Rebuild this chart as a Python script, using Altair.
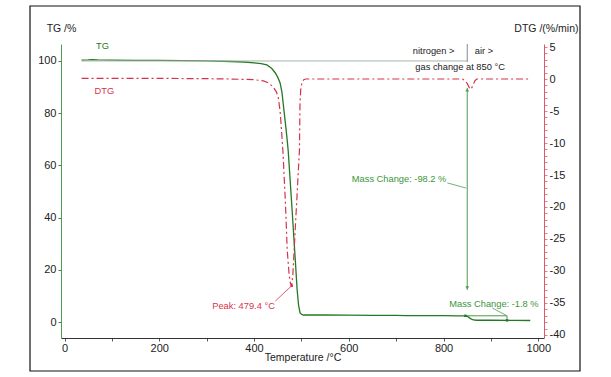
import altair as alt
import pandas as pd

# ---------------- data ----------------
tg_temp = [36, 50, 58, 70, 100, 150, 200, 250, 300, 350, 380, 400, 415, 427, 437,
           445, 450, 455, 459, 462, 466, 470, 472, 476, 480, 484, 487, 491, 494,
           497, 500, 504, 510, 550, 600, 650, 700, 720, 750, 800, 830, 846, 850,
           854, 858, 863, 870, 900, 950, 983]
tg_val = [100.3, 100.4, 100.5, 100.4, 100.3, 100.2, 100.2, 100.1, 100.0, 99.8,
          99.6, 99.3, 99.0, 98.5, 97.2, 95.4, 93.8, 91.6, 88.0, 83.0, 76.5, 69.7,
          65.9, 55.0, 44.0, 32.5, 24.0, 12.3, 6.5, 3.6, 3.0, 2.7, 2.7, 2.7, 2.65,
          2.6, 2.6, 2.5, 2.5, 2.45, 2.4, 2.4, 2.2, 1.7, 1.2, 0.8, 0.7, 0.7, 0.65, 0.6]

dtg_temp = [36, 100, 200, 300, 350, 400, 420, 430, 440, 447, 451, 455, 458, 461,
            466, 470, 474, 477, 479.4, 482, 484.7, 488, 490.3, 493, 495.9, 497,
            498.5, 501, 505, 509, 600, 700, 800, 840, 846, 850, 854, 858, 862,
            866, 870, 900, 980]
dtg_val = [0.1, 0.1, 0.1, 0.05, 0.0, -0.1, -0.3, -0.6, -1.2, -2.0, -2.8, -5.0,
           -8.0, -11.3, -18.9, -26.7, -30.5, -32.0, -32.3, -30.5, -26.7, -22.0,
           -18.9, -15.0, -11.1, -4.0, -1.7, -0.6, -0.1, 0.0, 0.0, 0.0, 0.0, 0.0,
           -0.3, -0.7, -1.3, -1.6, -1.0, -0.3, 0.0, 0.0, 0.0]

x_ticks = [0, 100, 200, 300, 400, 500, 600, 700, 800, 900, 1000]
tg_ticks = [0, 20, 40, 60, 80, 100]
dtg_ticks = list(range(-40, 6))

tg_df = pd.DataFrame({"T": tg_temp, "v": tg_val})
dtg_df = pd.DataFrame({"T": dtg_temp, "v": dtg_val})

# ---------------- styling ----------------
FONT = "Liberation Sans"
TG_COL = "#237a23"
TG_LIGHT = "#4f9d4f"
DTG_COL = "#d6334a"
TXT = "#222222"
ANN = 9.3

x_scale = alt.Scale(domain=[-7.4, 1012], nice=False, zero=False)
tg_scale = alt.Scale(domain=[-6.1, 106.5], nice=False, zero=False)
dtg_scale = alt.Scale(domain=[-40.47, 5.47], nice=False, zero=False)

x_axis = alt.Axis(values=x_ticks, labelExpr="datum.value % 200 == 0 ? '' + datum.value : ''",
                  title="Temperature /°C", grid=False, domainColor="#333333",
                  tickColor="#555555", tickSize=3, labelPadding=1, labelFontSize=11,
                  labelColor=TXT, labelFont=FONT, labelOverlap=False,
                  titleFont=FONT, titleFontSize=10.5, titleFontWeight="normal",
                  titleColor=TXT, titleY=19, titleBaseline="middle")

tg_axis = alt.Axis(values=tg_ticks, orient="left", title="TG /%", grid=False,
                   domainColor=TG_LIGHT, tickColor="#666666", tickSize=3,
                   labelPadding=2, labelFontSize=11, labelColor=TXT, labelFont=FONT,
                   titleFont=FONT, titleFontSize=10.5, titleFontWeight="normal",
                   titleColor=TXT, titleAngle=0, titleX=0, titleY=-16,
                   titleAlign="center", titleBaseline="middle")

dtg_axis = alt.Axis(values=dtg_ticks, orient="right", title="DTG /(%/min)", grid=False,
                    labelExpr="datum.value % 5 == 0 ? '' + datum.value : ''",
                    domainColor="#e0566a", tickColor="#e0808c", tickSize=3,
                    labelPadding=2, labelFontSize=11, labelColor=TXT, labelFont=FONT,
                    labelOverlap=False,
                    titleFont=FONT, titleFontSize=10.5, titleFontWeight="normal",
                    titleColor=TXT, titleAngle=0, titleX=34, titleY=-16,
                    titleAlign="right", titleBaseline="middle")

def X(axis=None):
    return alt.X("T:Q", scale=x_scale, axis=axis, title=None)

def Ytg(axis=None):
    return alt.Y("v:Q", scale=tg_scale, axis=axis, title=None)

def Ydtg(axis=None):
    return alt.Y("v:Q", scale=dtg_scale, axis=axis, title=None)

# ---------------- TG layers ----------------
tg_line = alt.Chart(tg_df).mark_line(color=TG_COL, strokeWidth=1.3).encode(
    x=X(axis=x_axis), y=Ytg(axis=tg_axis), order="T:Q")

ref_line = alt.Chart(pd.DataFrame({"T": [36], "T2": [850], "v": [100]})).mark_rule(
    color="#a8b4a8", strokeWidth=1).encode(x=X(), x2="T2:Q", y=Ytg())

sep_line = alt.Chart(pd.DataFrame({"T": [850], "v": [99.6]})).mark_rule(
    color="#888888", strokeWidth=1).encode(x=X(), y=Ytg(), y2=alt.value(0))

arrow_line = alt.Chart(pd.DataFrame({"T": [850], "v": [89.7], "v2": [12.3]})).mark_rule(
    color=TG_LIGHT, strokeWidth=1).encode(x=X(), y=Ytg(), y2="v2:Q")
head_up = alt.Chart(pd.DataFrame({"T": [850], "v": [88.9]})).mark_point(
    shape="triangle-up", filled=True, size=14, color=TG_LIGHT, opacity=1).encode(
    x=X(), y=Ytg())
head_dn = alt.Chart(pd.DataFrame({"T": [850], "v": [13.1]})).mark_point(
    shape="triangle-down", filled=True, size=14, color=TG_LIGHT, opacity=1).encode(
    x=X(), y=Ytg())

lead1 = alt.Chart(pd.DataFrame({"T": [808], "v": [53.3], "T2": [848], "v2": [51.3]})).mark_rule(
    color=TG_LIGHT, strokeWidth=0.8).encode(x=X(), y=Ytg(), x2="T2:Q", y2="v2:Q")

step_lines = alt.Chart(pd.DataFrame({"T": [846, 934], "T2": [934, 934], "v": [2.4, 2.4],
                                     "v2": [2.4, 0.65]})).mark_rule(
    color=TG_COL, strokeWidth=0.8).encode(x=X(), x2="T2:Q", y=Ytg(), y2="v2:Q")
step_marks = alt.Chart(pd.DataFrame({"T": [846, 934], "v": [2.4, 0.65]})).mark_point(
    shape="square", filled=True, size=6, color=TG_COL, opacity=1).encode(x=X(), y=Ytg())

lead2 = alt.Chart(pd.DataFrame({"T": [903], "v": [5.4], "T2": [933], "v2": [2.5]})).mark_rule(
    color=TG_LIGHT, strokeWidth=0.8).encode(x=X(), y=Ytg(), x2="T2:Q", y2="v2:Q")

def label(T, v, text, color, align, ycode, size=ANN):
    return alt.Chart(pd.DataFrame({"T": [T], "v": [v], "label": [text]})).mark_text(
        color=color, align=align, baseline="middle", font=FONT, fontSize=size).encode(
        x=X(), y=ycode(), text="label:N")

tg_name = label(80, 105.7, "TG", TG_COL, "center", Ytg)
gas_left = label(823, 103.8, "nitrogen >", TXT, "right", Ytg)
gas_right = label(866, 103.8, "air  >", TXT, "left", Ytg)
gas_note = label(835, 97.7, "gas change at 850 °C", TXT, "center", Ytg)
mass1 = label(806, 54.8, "Mass Change: -98.2 %", "#3a963a", "right", Ytg)
mass2 = label(812, 6.9, "Mass Change: -1.8 %", "#3a963a", "left", Ytg)

# ---------------- DTG layers ----------------
dtg_line = alt.Chart(dtg_df).mark_line(color=DTG_COL, strokeWidth=1.2,
                                        strokeDash=[7, 3, 2, 3]).encode(
    x=X(), y=Ydtg(axis=dtg_axis), order="T:Q")

peak_lead = alt.Chart(pd.DataFrame({"T": [445], "v": [-34.7], "T2": [479.4], "v2": [-32.3]})).mark_rule(
    color=DTG_COL, strokeWidth=0.8).encode(x=X(), y=Ydtg(), x2="T2:Q", y2="v2:Q")
peak_mark = alt.Chart(pd.DataFrame({"T": [479.4], "v": [-32.3]})).mark_point(
    shape="square", filled=True, size=6, color=DTG_COL, opacity=1).encode(x=X(), y=Ydtg())

dtg_name = label(84, -1.85, "DTG", DTG_COL, "center", Ydtg)
peak_txt = label(444, -35.5, "Peak: 479.4 °C", DTG_COL, "right", Ydtg)

# ---------------- frame ----------------
frame = alt.Chart(pd.DataFrame({"a": [0]})).mark_rect(
    fill=None, stroke="#111111", strokeWidth=1.2).encode(
    x=alt.value(-31), x2=alt.value(519), y=alt.value(-38), y2=alt.value(327))

chart = alt.layer(
    tg_line, dtg_line, ref_line, sep_line, arrow_line, head_up, head_dn, lead1,
    step_lines, step_marks, lead2, tg_name, gas_left, gas_right, gas_note, mass1,
    mass2, peak_lead, peak_mark, dtg_name, peak_txt, frame
).resolve_scale(y="independent").resolve_axis(x="independent", y="independent").properties(
    width=483, height=294,
    padding={"left": 61, "top": 44, "right": 67, "bottom": 39},
    autosize=alt.AutoSizeParams(type="none"),
    background="white",
).configure_view(stroke=None)

chart.save("out.html", embed_options={"renderer": "svg", "actions": False})
